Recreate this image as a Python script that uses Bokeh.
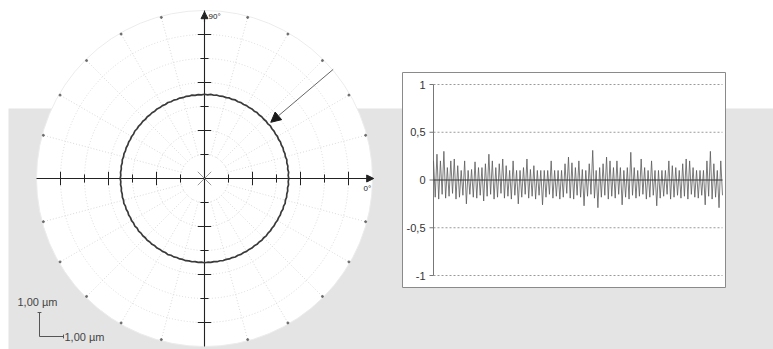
import numpy as np
from bokeh.plotting import figure
from bokeh.models import Range1d, Arrow, NormalHead
from bokeh.core.properties import value
from bokeh.embed import file_html
from bokeh.resources import INLINE

# ---------------- data ----------------
# roundness deviation profile (µm): local maxima and minima
peaks = [0.20, 0.27, 0.20, 0.30, 0.13, 0.20, 0.22, 0.15, 0.10, 0.20, 0.10, 0.11,
         0.19, 0.13, 0.13, 0.17, 0.27, 0.20, 0.13, 0.17, 0.22, 0.15, 0.10, 0.20,
         0.10, 0.10, 0.13, 0.22, 0.11, 0.15, 0.10, 0.10, 0.10, 0.10, 0.20, 0.10,
         0.10, 0.10, 0.17, 0.24, 0.18, 0.13, 0.20, 0.11, 0.10, 0.17, 0.31, 0.10,
         0.13, 0.17, 0.24, 0.20, 0.13, 0.20, 0.13, 0.10, 0.13, 0.29, 0.13, 0.10,
         0.22, 0.13, 0.10, 0.20, 0.10, 0.10, 0.10, 0.10, 0.20, 0.15, 0.13, 0.10,
         0.17, 0.22, 0.20, 0.13, 0.10, 0.10, 0.10, 0.20, 0.30, 0.17, 0.10, 0.20]
valleys = [-0.18, -0.20, -0.15, -0.19, -0.17, -0.14, -0.20, -0.18, -0.16, -0.25, -0.15, -0.18,
           -0.19, -0.16, -0.22, -0.17, -0.15, -0.20, -0.18, -0.14, -0.19, -0.17, -0.20, -0.16,
           -0.25, -0.18, -0.15, -0.19, -0.17, -0.20, -0.16, -0.26, -0.18, -0.15, -0.19, -0.17,
           -0.20, -0.18, -0.14, -0.19, -0.20, -0.16, -0.18, -0.27, -0.17, -0.15, -0.19, -0.29,
           -0.18, -0.16, -0.20, -0.17, -0.19, -0.15, -0.26, -0.18, -0.20, -0.16, -0.19, -0.17,
           -0.15, -0.20, -0.18, -0.16, -0.27, -0.19, -0.17, -0.15, -0.20, -0.18, -0.16, -0.19,
           -0.17, -0.20, -0.15, -0.18, -0.19, -0.16, -0.26, -0.17, -0.20, -0.18, -0.29, -0.16]

base_radius = 3.5            # µm, mean radius of the drawn profile
polar_ticks = [-6, -5, -4, -3, -2, -1, 1, 2, 3, 4, 5, 6]
polar_grid_radii = [1, 2, 3, 4, 5, 6]
polar_outer = 7.0
label_90 = "90°"
label_0 = "0°"
scale_label = "1,00 µm"

amp_ticks = [1, 0.5, 0, -0.5, -1]
amp_tick_labels = ["1", "0,5", "0", "-0,5", "-1"]
amp_grid = [1, 0.5, -0.5, -1]

# ---------------- helpers (layout) ----------------
deviation = []
for a, b in zip(peaks, valleys):
    deviation += [a, b]
N = len(deviation)
idx = list(range(N))

W, H = 773, 349
OX, OY = 0, 0
CX, CY, PXU = 204, 178, 24.0

def ux(px):
    return (px - CX) / PXU

def uy(py):
    return (CY - py) / PXU

SL, SR, ST, SB = 433, 722, 84, 275
sx = (SR - SL) / (N - 1)
sy = (SB - ST) / 2.0
SZ = (ST + SB) / 2.0

def tx(px):
    return (px - SL) / sx

def ay(py):
    return (SZ - py) / sy

FONT = value("Liberation Sans")

p = figure(width=W, height=H,
           x_range=Range1d(ux(OX), ux(OX + W)), y_range=Range1d(uy(OY + H), uy(OY)),
           x_axis_type=None, y_axis_type=None, toolbar_location=None,
           output_backend="svg", min_border=0, outline_line_color=None,
           background_fill_color="white", border_fill_color="white")
p.extra_x_ranges = {"t": Range1d(tx(OX), tx(OX + W))}
p.extra_y_ranges = {"a": Range1d(ay(OY + H), ay(OY))}

# grey band
p.quad(left=[ux(8)], right=[ux(OX + W)], top=[uy(108)], bottom=[uy(OY + H)],
       fill_color="#e4e4e4", line_color=None)

# ---------------- polar chart ----------------
p.circle(x=[0], y=[0], radius=polar_outer, fill_color="white",
         line_color="#ececec", line_width=1)
p.circle(x=[0] * len(polar_grid_radii), y=[0] * len(polar_grid_radii),
         radius=polar_grid_radii, fill_color=None, line_color="#dadada",
         line_dash="1 2", line_width=1)
ang = np.deg2rad(np.arange(0, 360, 15))
p.segment(x0=1.0 * np.cos(ang), y0=1.0 * np.sin(ang),
          x1=6.9 * np.cos(ang), y1=6.9 * np.sin(ang),
          line_color="#dadada", line_dash="1 2", line_width=1)
dot_ang = np.deg2rad([a for a in range(0, 360, 15) if a % 90 != 0])
p.scatter(x=6.95 * np.cos(dot_ang), y=6.95 * np.sin(dot_ang), size=2,
          color="#6a6a6a")

# axes
p.segment(x0=[-polar_outer, 0], y0=[0, -polar_outer], x1=[7.0, 0], y1=[0, 7.0],
          line_color="#222222", line_width=1.1)
p.add_layout(Arrow(end=NormalHead(size=7, fill_color="#222222", line_color="#222222"),
                   x_start=6.6, y_start=0, x_end=7.05, y_end=0,
                   line_color="#222222", line_width=1.1))
p.add_layout(Arrow(end=NormalHead(size=7, fill_color="#222222", line_color="#222222"),
                   x_start=0, y_start=6.5, x_end=0, y_end=6.95,
                   line_color="#222222", line_width=1.1))
half = [0.28 if t % 2 == 0 else 0.17 for t in polar_ticks]
p.segment(x0=polar_ticks, y0=[-h for h in half], x1=polar_ticks, y1=half,
          line_color="#222222", line_width=1)
p.segment(x0=[-h for h in half], y0=polar_ticks, x1=half, y1=polar_ticks,
          line_color="#222222", line_width=1)
p.segment(x0=[-0.28, -0.28], y0=[-0.28, 0.28], x1=[0.28, 0.28], y1=[0.28, -0.28],
          line_color="#999999", line_width=1)

# profile
theta = np.linspace(0, 2 * np.pi, N, endpoint=False)
r = base_radius + 0.06 * np.array(deviation)
px = list(r * np.cos(theta)) + [r[0]]
py = list(r * np.sin(theta)) + [0.0]
p.line(px, py, line_color="#3a3a3a", line_width=1.7)

# pointer arrow
pa = np.deg2rad(40.3)
p.add_layout(Arrow(end=NormalHead(size=10, fill_color="#1a1a1a", line_color="#1a1a1a"),
                   x_start=7.03 * np.cos(pa), y_start=7.03 * np.sin(pa),
                   x_end=3.62 * np.cos(pa), y_end=3.62 * np.sin(pa),
                   line_color="#666666", line_width=1))

p.text(x=[ux(208)], y=[uy(11)], text=[label_90], text_font=FONT,
       text_font_size="8px", text_baseline="top", text_color="#222222")
p.text(x=[ux(363)], y=[uy(183)], text=[label_0], text_font=FONT,
       text_font_size="8px", text_baseline="top", text_color="#222222")

# scale bar (1 µm each way)
sbx, sby = ux(39), uy(336)
p.segment(x0=[sbx, sbx, sbx - 0.08, sbx + 1], y0=[sby, sby, sby + 1, sby - 0.08],
          x1=[sbx, sbx + 1, sbx + 0.08, sbx + 1], y1=[sby + 1, sby, sby + 1, sby + 0.08],
          line_color="#555555", line_width=1)
p.text(x=[ux(17)], y=[uy(301)], text=[scale_label], text_font=FONT,
       text_font_size="11px", text_baseline="middle", text_color="#444444")
p.text(x=[ux(64)], y=[uy(336)], text=[scale_label], text_font=FONT,
       text_font_size="11px", text_baseline="middle", text_color="#444444")

# ---------------- deviation chart ----------------
R = dict(x_range_name="t", y_range_name="a")
p.quad(left=[tx(402)], right=[tx(725)], top=[ay(72)], bottom=[ay(287)],
       fill_color="white", line_color="#8a8a8a", line_width=1, **R)
p.segment(x0=[0] * len(amp_grid), x1=[N - 1] * len(amp_grid), y0=amp_grid, y1=amp_grid,
          line_color="#9a9a9a", line_dash="2 2", line_width=1, **R)
p.segment(x0=[0], x1=[0], y0=[-1], y1=[1], line_color="#777777", line_width=1, **R)
p.segment(x0=[tx(429)] * len(amp_ticks), x1=[0] * len(amp_ticks), y0=amp_ticks,
          y1=amp_ticks, line_color="#777777", line_width=1, **R)
p.text(x=[tx(425)] * len(amp_ticks), y=amp_ticks, text=amp_tick_labels, text_font=FONT,
       text_font_size="11px", text_align="right", text_baseline="middle",
       text_color="#333333", **R)
p.line(idx, deviation, line_color="#5a5a5a", line_width=0.8, **R)
p.segment(x0=[0], x1=[N - 1], y0=[0], y1=[0], line_color="#333333", line_width=1, **R)

open("out.html", "w").write(file_html(p, INLINE))
